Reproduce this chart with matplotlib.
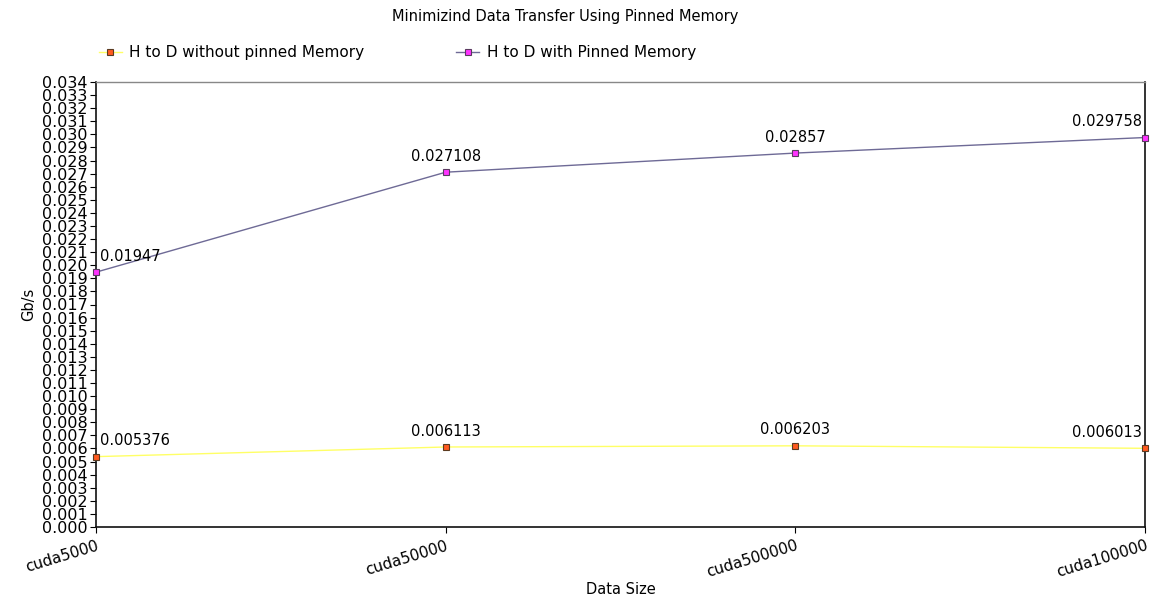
import matplotlib
matplotlib.use("Agg")
import matplotlib.pyplot as plt
import numpy as np

categories = ["cuda5000", "cuda50000", "cuda500000", "cuda100000"]
without_pinned = [0.005376, 0.006113, 0.006203, 0.006013]
with_pinned = [0.01947, 0.027108, 0.02857, 0.029758]
without_labels = ["0.005376", "0.006113", "0.006203", "0.006013"]
with_labels = ["0.01947", "0.027108", "0.02857", "0.029758"]
yticks = [i / 1000 for i in range(0, 35)]

plt.rcParams['font.family'] = ['DejaVu Sans']
fig = plt.figure(figsize=(11.53, 5.98), dpi=100)
ax = fig.add_axes([96 / 1153, 1 - 527 / 598, (1145 - 96) / 1153, (527 - 82) / 598])

x = np.arange(len(categories))
ax.plot(x, without_pinned, color="#ffff66", lw=1, marker="s", ms=5,
        mfc="#ff5a1f", mec="#5a3a20", mew=0.8, label="H to D without pinned Memory",
        clip_on=False, zorder=3)
ax.plot(x, with_pinned, color="#6e6a96", lw=1, marker="s", ms=5,
        mfc="#ff33ff", mec="#5a3a60", mew=0.8, label="H to D with Pinned Memory",
        clip_on=False, zorder=3)

for series, labels in ((without_pinned, without_labels), (with_pinned, with_labels)):
    for i, (v, t) in enumerate(zip(series, labels)):
        if i == 0:
            ax.annotate(t, (x[i], v), xytext=(3, 6), textcoords="offset points",
                        ha="left", va="bottom", fontsize=10.5)
        elif i == len(series) - 1:
            ax.annotate(t, (x[i], v), xytext=(-2, 6), textcoords="offset points",
                        ha="right", va="bottom", fontsize=10.5)
        else:
            ax.annotate(t, (x[i], v), xytext=(0, 6), textcoords="offset points",
                        ha="center", va="bottom", fontsize=10.5)

ax.set_xlim(0, 3)
ax.set_ylim(0, 0.034)
ax.set_yticks(yticks)
ax.set_yticklabels([f"{t:.3f}" for t in yticks])
ax.tick_params(axis="y", pad=2, length=4, width=0.8, labelsize=11.5)
ax.set_xticks(x)
ax.set_xticklabels(categories, rotation=17, ha="right", rotation_mode="anchor", fontsize=11)
ax.tick_params(axis="x", length=4, width=0.8, pad=4)

for s in ("left", "bottom", "right"):
    ax.spines[s].set_color("#111111")
    ax.spines[s].set_linewidth(1.2)
ax.spines["top"].set_color("#888888")
ax.spines["top"].set_linewidth(1)

ax.set_ylabel("Gb/s", fontsize=10.5, labelpad=4)
ax.set_xlabel("Data Size", fontsize=10.5, labelpad=1)
fig.text(0.49, 1 - 17 / 598, "Minimizind Data Transfer Using Pinned Memory",
         ha="center", va="center", fontsize=10.5)
fig.legend(loc="center left", bbox_to_anchor=(85 / 1153, 1 - 53 / 598), ncol=2,
           frameon=False, fontsize=11, handlelength=1.5, columnspacing=6,
           handletextpad=0.5)

fig.savefig("out.png", dpi=100)
